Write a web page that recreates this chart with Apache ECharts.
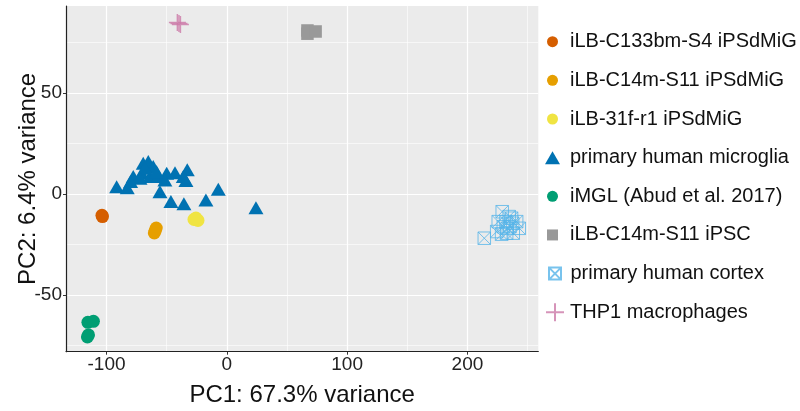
<!DOCTYPE html>
<html>
<head>
<meta charset="utf-8">
<script src="https://cdn.jsdelivr.net/npm/echarts@6/dist/echarts.min.js"></script>
<style>
  html, body { margin: 0; padding: 0; background: #fff; }
  #main { width: 800px; height: 411px; }
</style>
</head>
<body>
<div id="main"></div>
<script>
// group names (legend order)
var groupNames = [
    'iLB-C133bm-S4 iPSdMiG',
    'iLB-C14m-S11 iPSdMiG',
    'iLB-31f-r1 iPSdMiG',
    'primary human microglia',
    'iMGL (Abud et al. 2017)',
    'iLB-C14m-S11 iPSC',
    'primary human cortex',
    'THP1 macrophages'
];

// PC1 / PC2 values per group
var c133bm = [[-103.8, -10.6], [-103.4, -11.2]];
var c14mMig = [[-60.3, -19.3], [-59.5, -18.1], [-58.7, -16.9]];
var r31f = [[-27.3, -12.6], [-24.0, -13.1], [-25.7, -11.9]];
var microglia = [
    [-91.6, 3.6], [-82.8, 3.1], [-77.8, 8.6], [-69.5, 15.2], [-65.3, 16.0],
    [-61.2, 13.5], [-70.8, 10.2], [-63.9, 8.6], [-57.0, 8.6], [-50.0, 10.2],
    [-43.1, 10.5], [-32.9, 11.9], [-34.0, 6.6], [-55.6, 1.1], [-46.5, -3.8],
    [-35.7, -4.9], [-17.4, -3.0], [-7.1, 2.3], [24.2, -6.8], [-51.5, 6.9],
    [-68.0, 12.7], [-72.2, 7.8], [-80.0, 6.1], [-58.4, 11.0], [-36.2, 8.6]
];
var imgl = [[-115.5, -63.5], [-110.9, -63.0], [-115.0, -69.7], [-115.9, -70.7]];
var ipsc = [[67.0, 80.8], [67.0, 79.2], [73.8, 80.3]];
var cortex = [
    [214.0, -21.9], [228.9, -8.8], [225.6, -13.7], [224.3, -18.6], [234.7, -11.2],
    [240.9, -13.7], [243.1, -17.0], [238.1, -19.4], [232.6, -19.4], [229.8, -16.2],
    [235.3, -16.2], [232.0, -13.7], [237.6, -14.5], [228.4, -19.9], [233.1, -17.0],
    [236.7, -12.0]
];
var thp1 = [[-41.1, 84.8], [-39.8, 84.3], [-38.6, 83.8]];

var xTicks = [-100, 0, 100, 200];
var yTicks = [-50, 0, 50];

var groupData = [c133bm, c14mMig, r31f, microglia, imgl, ipsc, cortex, thp1];
var colors = ['#D55E00', '#E69F00', '#F0E442', '#0072B2', '#009E73', '#999999', '#56B4E9', '#CC79A7'];

var crossBox = 'path://M0,0H10V10H0Z M0,0L10,10 M10,0L0,10';
var plusPath = 'path://M5,0V10 M0,5H10';

var symbols = ['circle', 'circle', 'circle', 'triangle', 'circle', 'rect', crossBox, plusPath];
var symSizes = [13, 13, 13, [15, 13], 13, 12.5, 12.5, 17];
// legend icon sizes [w, h]
var legSizes = [[11, 11], [11, 11], [11, 11], [15, 13], [11, 11], [11, 11], [12, 12], [18, 18]];
var legShift = [0, 0, 0, 0, 0, 0, -2, -2.5];

var font = 'Liberation Sans, Arial, Helvetica, sans-serif';

var series = [];
var legends = [];
for (var i = 0; i < groupNames.length; i++) {
    var outline = (i >= 6);
    series.push({
        name: groupNames[i],
        type: 'scatter',
        symbol: symbols[i],
        symbolSize: symSizes[i],
        data: groupData[i],
        itemStyle: outline ? {
            color: 'none',
            borderColor: colors[i],
            borderWidth: i === 7 ? 1.5 : 1
        } : {
            color: colors[i],
            opacity: 1
        },
        emphasis: {disabled: true}
    });
    var w = legSizes[i][0], h = legSizes[i][1];
    var lx = 552.5 - w / 2;
    legends.push({
        data: [groupNames[i]],
        orient: 'vertical',
        left: lx,
        top: 41.7 + 38.65 * i - 12,
        itemWidth: w,
        itemHeight: h,
        symbolKeepAspect: false,
        selectedMode: false,
        padding: 0,
        textStyle: {
            fontFamily: font,
            fontSize: 20,
            color: '#111',
            lineHeight: 24,
            padding: [0, 0, 0, 570 - (lx + w + 5) + legShift[i]]
        }
    });
}

var myChart = echarts.init(document.getElementById('main'), null, {renderer: 'canvas'});

var option = {
    animation: false,
    backgroundColor: '#fff',
    legend: legends,
    grid: {
        left: 66,
        top: 6,
        width: 472.3,
        height: 345.7,
        show: true,
        backgroundColor: '#EBEBEB',
        borderWidth: 0,
        containLabel: false,
        outerBoundsMode: 'none'
    },
    xAxis: {
        type: 'value',
        min: -133.7,
        max: 258.9,
        splitNumber: 5,
        name: 'PC1: 67.3% variance',
        nameLocation: 'middle',
        nameGap: 32,
        nameMoveOverlap: false,
        nameTextStyle: {fontFamily: font, fontSize: 24, color: '#111'},
        axisLine: {show: true, onZero: false, lineStyle: {color: '#222', width: 1.2}},
        axisTick: {show: true, length: 3, customValues: xTicks, lineStyle: {color: '#333', width: 1}},
        axisLabel: {customValues: xTicks, margin: 4, fontFamily: font, fontSize: 19, color: '#222'},
        splitLine: {show: true, lineStyle: {color: '#fff', width: 1.2}},
        minorTick: {show: false, splitNumber: 2},
        minorSplitLine: {show: true, lineStyle: {color: '#fff', width: 0.6}}
    },
    yAxis: {
        type: 'value',
        min: -78,
        max: 92.9,
        splitNumber: 3,
        name: 'PC2: 6.4% variance',
        nameLocation: 'middle',
        nameGap: 26,
        nameRotate: 90,
        nameMoveOverlap: false,
        nameTextStyle: {fontFamily: font, fontSize: 24, color: '#111'},
        axisLine: {show: true, onZero: false, lineStyle: {color: '#222', width: 1.2}},
        axisTick: {show: true, length: 3, customValues: yTicks, lineStyle: {color: '#333', width: 1}},
        axisLabel: {customValues: yTicks, margin: 4, fontFamily: font, fontSize: 19, color: '#222'},
        splitLine: {show: true, lineStyle: {color: '#fff', width: 1.2}},
        minorTick: {show: false, splitNumber: 2},
        minorSplitLine: {show: true, lineStyle: {color: '#fff', width: 0.6}}
    },
    series: series
};

myChart.setOption(option);
</script>
</body>
</html>
